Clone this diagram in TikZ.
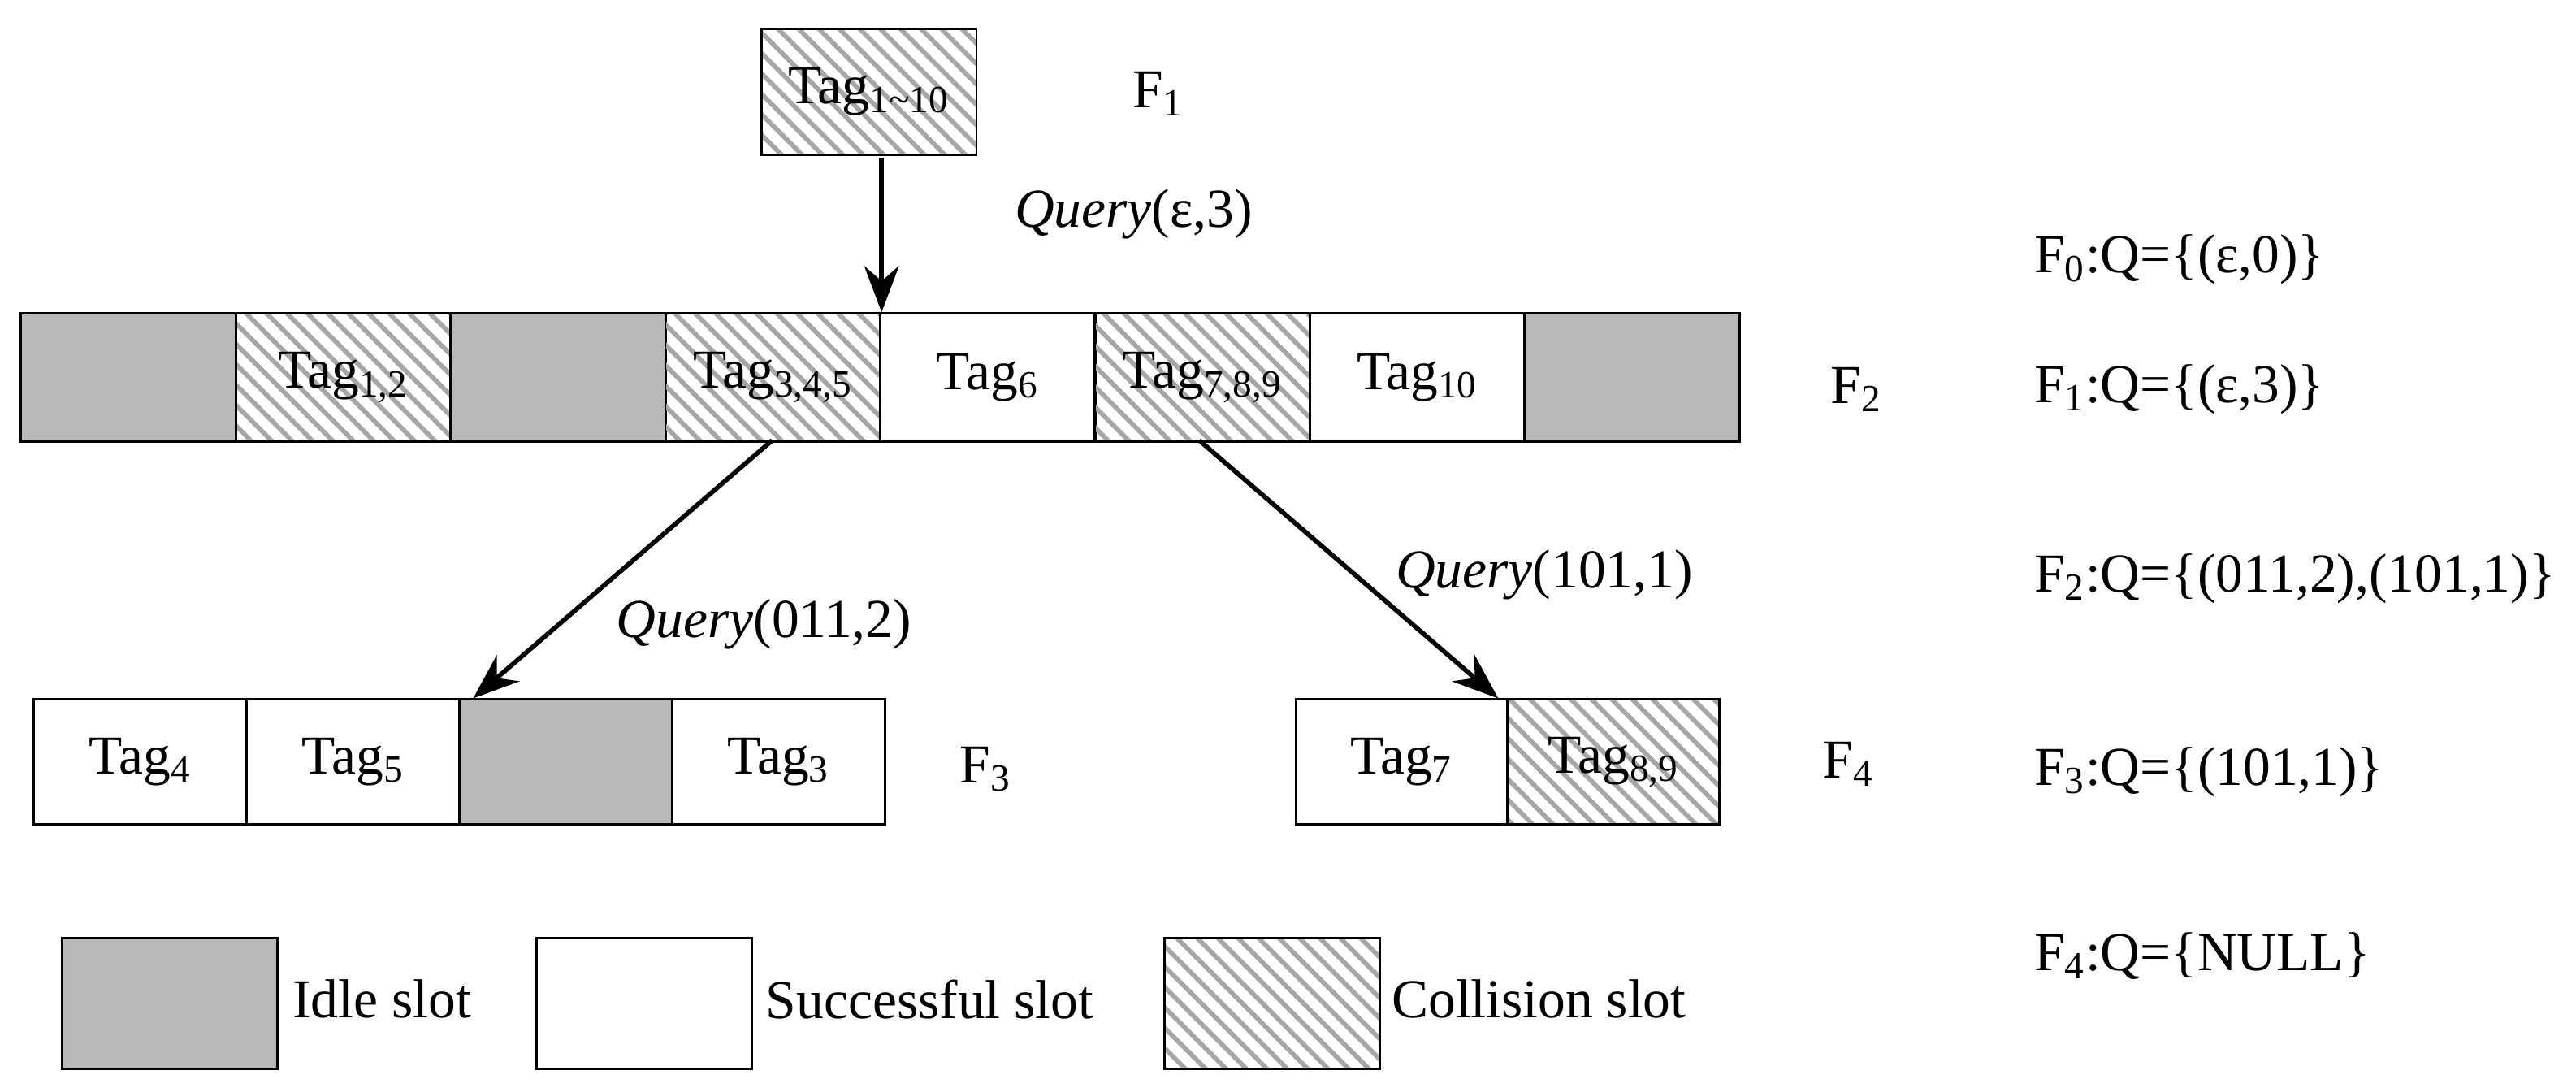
\documentclass[tikz,border=0pt]{standalone}
\usepackage{fontspec}
\setmainfont{Liberation Serif}
\usetikzlibrary{patterns.meta,arrows.meta}
\begin{document}
\begin{tikzpicture}[x=0.02cm,y=-0.02cm,
  font=\fontsize{19}{22}\selectfont,
  slot/.style={draw,thick,minimum height=1.56cm,minimum width=2.62cm,inner sep=0pt,anchor=north west},
  idle/.style={slot,fill=gray!55},
  succ/.style={slot,fill=white},
  coll/.style={slot,pattern={Lines[angle=-45,distance=5pt,line width=1.6pt]},pattern color=gray!70},
  arr/.style={-{Stealth[length=16pt,width=12pt]},line width=1.6pt},
  qs/.style={anchor=west}]
\useasboundingbox (0,0) rectangle (1568,662);
% top frame
\node[coll,minimum width=2.62cm,minimum height=1.54cm] (t0) at (462,16) {Tag\textsubscript{1\char"007E 10}};
\node (f1) at (705,57) {F\textsubscript{1}};
% frame F2
\foreach \i/\s/\t in {0/idle/,1/coll/Tag\textsubscript{1,2},2/idle/,3/coll/Tag\textsubscript{3,4,5},4/succ/Tag\textsubscript{6},5/coll/Tag\textsubscript{7,8,9},6/succ/Tag\textsubscript{10},7/idle/}
  \node[\s] (a\i) at ({12+130.75*\i},190) {\t};
\node (f2) at (1130,237) {F\textsubscript{2}};
% frame F3
\foreach \i/\s/\t in {0/succ/Tag\textsubscript{4},1/succ/Tag\textsubscript{5},2/idle/,3/succ/Tag\textsubscript{3}}
  \node[\s,minimum width=2.59cm,minimum height=1.52cm] (b\i) at ({20+129.5*\i},425) {\t};
\node (f3) at (600,468) {F\textsubscript{3}};
% frame F4
\node[succ,minimum width=2.58cm,minimum height=1.52cm] (c0) at (788,425) {Tag\textsubscript{7}};
\node[coll,minimum width=2.58cm,minimum height=1.52cm] (c1) at (917,425) {Tag\textsubscript{8,9}};
\node (f4) at (1125,465) {F\textsubscript{4}};
% connectors
\draw[arr] (t0.south west -| a3.north east) -- (a3.north east);
\node (q0) at (690,130) {\textit{Query}(ε,3)};
\coordinate (s1) at (470,268);
\coordinate (s2) at (730,268);
\draw[arr] (s1) -- ([xshift=0.18cm]b2.north west);
\draw[arr] (s2) -- ([xshift=-0.1cm]c1.north west);
\node (q1) at (465,380) {\textit{Query}(011,2)};
\node (q2) at (940,350) {\textit{Query}(101,1)};
% legend
\node[idle,minimum height=1.6cm] (l1) at (37,570) {};
\node[anchor=west] (lt1) at (172,608) {Idle slot};
\node[succ,minimum height=1.6cm] (l2) at (326,570) {};
\node[anchor=west] (lt2) at (460,608) {Successful slot};
\node[coll,minimum height=1.6cm] (l3) at (708,570) {};
\node[anchor=west] (lt3) at (841,608) {Collision slot};
% queue states
\node[qs] (q0s) at (1232,158) {F\textsubscript{0}:Q=\{(ε,0)\}};
\node[qs] (q1s) at (1232,237) {F\textsubscript{1}:Q=\{(ε,3)\}};
\node[qs] (q2s) at (1232,352) {F\textsubscript{2}:Q=\{(011,2),(101,1)\}};
\node[qs] (q3s) at (1232,470) {F\textsubscript{3}:Q=\{(101,1)\}};
\node[qs] (q4s) at (1232,582) {F\textsubscript{4}:Q=\{NULL\}};
\end{tikzpicture}
\end{document}
